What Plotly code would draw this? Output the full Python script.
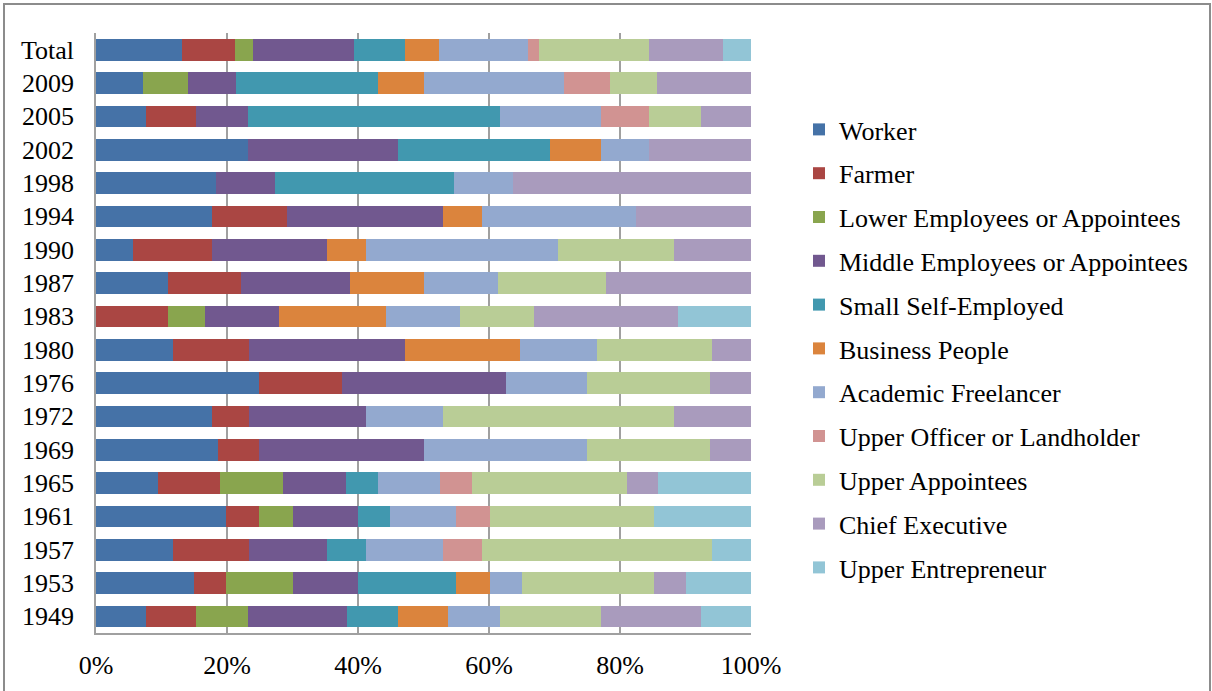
import plotly.graph_objects as go

years = ["Total", "2009", "2005", "2002", "1998", "1994", "1990", "1987", "1983",
         "1980", "1976", "1972", "1969", "1965", "1961", "1957", "1953", "1949"]

worker = [13.2, 7.1, 7.7, 23.2, 18.3, 17.7, 5.7, 11.0, 0, 11.7, 24.9, 17.7, 18.7, 9.4, 19.8, 11.7, 14.9, 7.7]
farmer = [8.0, 0, 7.6, 0, 0, 11.5, 12.0, 11.2, 11.0, 11.7, 12.6, 5.7, 6.2, 9.5, 5.1, 11.7, 4.9, 7.6]
lower_emp = [2.8, 7.0, 0, 0, 0, 0, 0, 0, 5.7, 0, 0, 0, 0, 9.6, 5.2, 0, 10.3, 7.9]
middle_emp = [15.4, 7.3, 7.9, 22.9, 9.0, 23.8, 17.6, 16.6, 11.2, 23.7, 25.1, 17.8, 25.2, 9.6, 9.9, 11.9, 9.9, 15.1]
small_self = [7.7, 21.6, 38.5, 23.2, 27.3, 0, 0, 0, 0, 0, 0, 0, 0, 4.9, 4.9, 5.9, 15.0, 7.8]
business = [5.2, 7.1, 0, 7.8, 0, 5.9, 5.9, 11.3, 16.4, 17.7, 0, 0, 0, 0, 0, 0, 5.1, 7.7]
academic = [13.7, 21.4, 15.4, 7.4, 9.0, 23.5, 29.4, 11.2, 11.3, 11.7, 12.3, 11.8, 24.9, 9.5, 10.1, 11.8, 4.9, 7.9]
upper_officer = [1.7, 7.0, 7.4, 0, 0, 0, 0, 0, 0, 0, 0, 0, 0, 4.9, 5.1, 5.9, 0, 0]
upper_appt = [16.8, 7.2, 7.9, 0, 0, 0, 17.6, 16.6, 11.2, 17.6, 18.8, 35.2, 18.7, 23.6, 25.1, 35.2, 20.2, 15.4]
chief = [11.2, 14.3, 7.6, 15.5, 36.4, 17.6, 11.8, 22.1, 22.1, 5.9, 6.3, 11.8, 6.3, 4.8, 0, 0, 4.8, 15.3]
upper_ent = [4.3, 0, 0, 0, 0, 0, 0, 0, 11.1, 0, 0, 0, 0, 14.2, 14.8, 5.9, 10.0, 7.6]

series_names = ["Worker", "Farmer", "Lower Employees or Appointees", "Middle Employees or Appointees",
                "Small Self-Employed", "Business People", "Academic Freelancer",
                "Upper Officer or Landholder", "Upper Appointees", "Chief Executive", "Upper Entrepreneur"]
series_values = [worker, farmer, lower_emp, middle_emp, small_self, business, academic,
                 upper_officer, upper_appt, chief, upper_ent]
colors = ["#4572A7", "#AA4643", "#89A54E", "#71588F", "#4198AF", "#DB843D",
          "#93A9CF", "#D19392", "#B9CD96", "#A99BBD", "#92C5D6"]

FONT = "Liberation Serif"
FS = 26

fig = go.Figure()
for i, (name, vals, col) in enumerate(zip(series_names, series_values, colors)):
    fig.add_trace(go.Bar(
        y=years, x=vals, name=name, orientation="h",
        marker=dict(color=col, line=dict(width=0)),
        legendgroup=f"g{i}",
    ))

W, H = 1212, 691
ml, mr, mt, mb = 96, 461, 33, 58
pw, ph = W - ml - mr, H - mt - mb

def px_to_paper_x(px):
    return (px - ml) / pw

def px_to_paper_y(py):
    return (H - mb - py) / ph

fig.update_layout(
    width=W, height=H,
    margin=dict(l=ml, r=mr, t=mt, b=mb, pad=0, autoexpand=False),
    barmode="stack", barnorm="percent", bargap=0.35,
    paper_bgcolor="white", plot_bgcolor="white",
    font=dict(family=FONT, size=FS, color="black"),
    showlegend=True,
    legend=dict(
        x=px_to_paper_x(799), xanchor="left",
        y=px_to_paper_y(106), yanchor="top",
        traceorder="grouped", tracegroupgap=7,
        font=dict(family=FONT, size=FS, color="black"),
        bgcolor="rgba(0,0,0,0)",
    ),
    xaxis=dict(
        range=[0, 100], tickvals=[0, 20, 40, 60, 80, 100],
        ticktext=["0%", "20%", "40%", "60%", "80%", "100%"],
        showgrid=True, gridcolor="#A0A0A0", gridwidth=1.5,
        showline=True, linecolor="#A0A0A0", linewidth=1.5,
        zeroline=False, ticks="", ticklabelstandoff=8,
        tickfont=dict(family=FONT, size=FS, color="black"),
    ),
    yaxis=dict(
        categoryorder="array", categoryarray=years, autorange="reversed",
        showgrid=False, showline=True, linecolor="#A0A0A0", linewidth=1.5,
        ticks="", ticklabelstandoff=15,
        tickfont=dict(family=FONT, size=FS, color="black"),
    ),
    shapes=[dict(
        type="rect", xref="paper", yref="paper",
        x0=px_to_paper_x(4), x1=px_to_paper_x(1210),
        y0=px_to_paper_y(705), y1=px_to_paper_y(4),
        line=dict(color="#8C8C8C", width=2), fillcolor="rgba(0,0,0,0)", layer="below",
    )],
)

fig.write_html("out.html", config={"displayModeBar": False},
               post_script="document.body.style.margin='0';document.body.style.overflow='hidden';")
